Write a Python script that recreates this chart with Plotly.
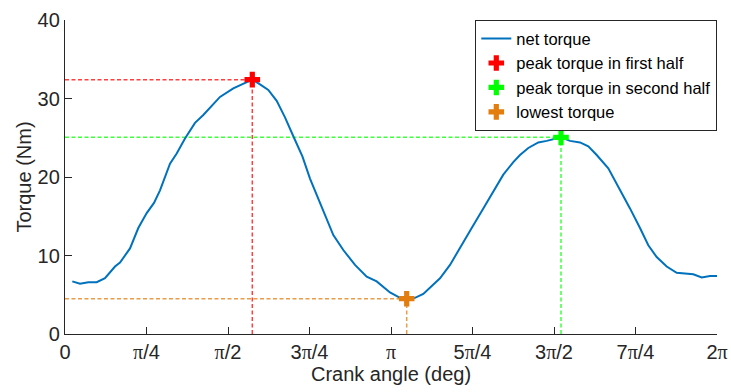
import numpy as np
import plotly.graph_objects as go

# Crank angle (rad) and net torque (Nm) over one revolution
angle = [0.0703, 0.1446, 0.2245, 0.3055, 0.3855, 0.4818, 0.5300, 0.6264, 0.7064, 0.7873,
         0.8577, 0.9155, 1.0119, 1.0764, 1.1564, 1.2528, 1.3328, 1.4937, 1.6219, 1.7346,
         1.8050, 1.8792, 1.9592, 2.0401, 2.1201, 2.2068, 2.2887, 2.3610, 2.4737, 2.5856,
         2.6819, 2.7947, 2.9074, 3.0038, 3.1320, 3.2283, 3.2929, 3.3729, 3.4529, 3.6138,
         3.7102, 3.8065, 3.9193, 4.0311, 4.1275, 4.2238, 4.3202, 4.3847, 4.4647, 4.5611,
         4.6421, 4.7799, 4.8666, 4.9630, 5.0430, 5.1239, 5.2357, 5.3321, 5.4448, 5.5412,
         5.6212, 5.7021, 5.7985, 5.8948, 5.9912, 6.0548, 6.1357, 6.2157, 6.2832]
torque = [6.7, 6.4, 6.6, 6.6, 7.1, 8.6, 9.1, 10.9, 13.5, 15.4,
          16.7, 18.3, 21.7, 23.0, 24.9, 26.9, 27.9, 30.2, 31.3, 32.0,
          32.4, 31.8, 31.1, 29.7, 27.6, 25.0, 22.6, 19.8, 16.2, 12.6,
          10.7, 8.8, 7.3, 6.7, 5.3, 4.6, 4.5, 4.6, 5.1, 7.1,
          8.8, 10.9, 13.5, 16.0, 18.1, 20.3, 21.9, 22.8, 23.7, 24.4,
          24.6, 25.05, 24.6, 24.4, 23.9, 22.8, 21.1, 18.8, 16.0, 13.5,
          11.3, 9.8, 8.6, 7.8, 7.7, 7.6, 7.2, 7.4, 7.4]

tick_vals = [0, np.pi / 4, np.pi / 2, 3 * np.pi / 4, np.pi,
             5 * np.pi / 4, 3 * np.pi / 2, 7 * np.pi / 4, 2 * np.pi]
PI = "<span style='font-family:Liberation Serif'>π</span>"
tick_text = ["0", f"{PI}/4", f"{PI}/2", f"3{PI}/4", PI,
             f"5{PI}/4", f"3{PI}/2", f"7{PI}/4", f"2{PI}"]

first = [i for i in range(len(angle)) if angle[i] <= np.pi]
second = [i for i in range(len(angle)) if angle[i] > np.pi]
i1 = max(first, key=lambda i: torque[i])
i2 = max(second, key=lambda i: torque[i])
i3 = min(range(len(angle)), key=lambda i: torque[i])

RED, GREEN, ORANGE, BLUE = "#FF0000", "#00FF00", "#E27D0E", "#0072BD"

fig = go.Figure()


def guides(i, color):
    dash = "4px,2.5px"
    for xs, ys in [([0, angle[i]], [torque[i], torque[i]]),
                   ([angle[i], angle[i]], [0, torque[i]])]:
        fig.add_trace(go.Scatter(x=xs, y=ys, mode="lines",
                                 line=dict(color=color, width=1.5, dash=dash),
                                 opacity=0.75, showlegend=False, hoverinfo="skip"))


guides(i1, RED)
guides(i2, GREEN)
guides(i3, ORANGE)

fig.add_trace(go.Scatter(x=angle, y=torque, mode="lines", name="net torque",
                         line=dict(color=BLUE, width=2)))
for i, c, name in [(i1, RED, "peak torque in first half"),
                   (i2, GREEN, "peak torque in second half"),
                   (i3, ORANGE, "lowest torque")]:
    fig.add_trace(go.Scatter(x=[angle[i]], y=[torque[i]], mode="markers", name=name,
                             cliponaxis=False,
                             marker=dict(symbol="cross", size=13, color=c,
                                         line=dict(width=0))))

axis_color = "#262626"
font = "Liberation Sans, Arial, sans-serif"
fig.update_layout(
    width=731, height=392,
    margin=dict(l=65, r=14, t=20, b=58),
    paper_bgcolor="white", plot_bgcolor="white",
    font=dict(family=font, size=20, color=axis_color),
    showlegend=True,
    legend=dict(x=1, y=1, xanchor="right", yanchor="top",
                bgcolor="white", bordercolor=axis_color, borderwidth=1.3,
                font=dict(size=16.5, color="#000000"), itemwidth=30,
                tracegroupgap=0),
)
fig.update_xaxes(range=[0, 2 * np.pi], tickmode="array", tickvals=tick_vals,
                 ticktext=tick_text, ticks="inside", ticklen=7, tickwidth=1.3,
                 tickcolor=axis_color, showline=True, linecolor=axis_color,
                 linewidth=1.3, showgrid=False, zeroline=False, automargin=False,
                 title=dict(text="Crank angle (deg)", standoff=2,
                            font=dict(size=20, color=axis_color)))
fig.update_yaxes(range=[0, 40], tickmode="array", tickvals=[0, 10, 20, 30, 40],
                 ticks="inside", ticklen=7, tickwidth=1.3, tickcolor=axis_color,
                 showline=True, linecolor=axis_color, linewidth=1.3,
                 showgrid=False, zeroline=False, automargin=False,
                 title=dict(text="Torque (Nm)", standoff=0,
                            font=dict(size=20, color=axis_color)))

fig.write_html("out.html")
